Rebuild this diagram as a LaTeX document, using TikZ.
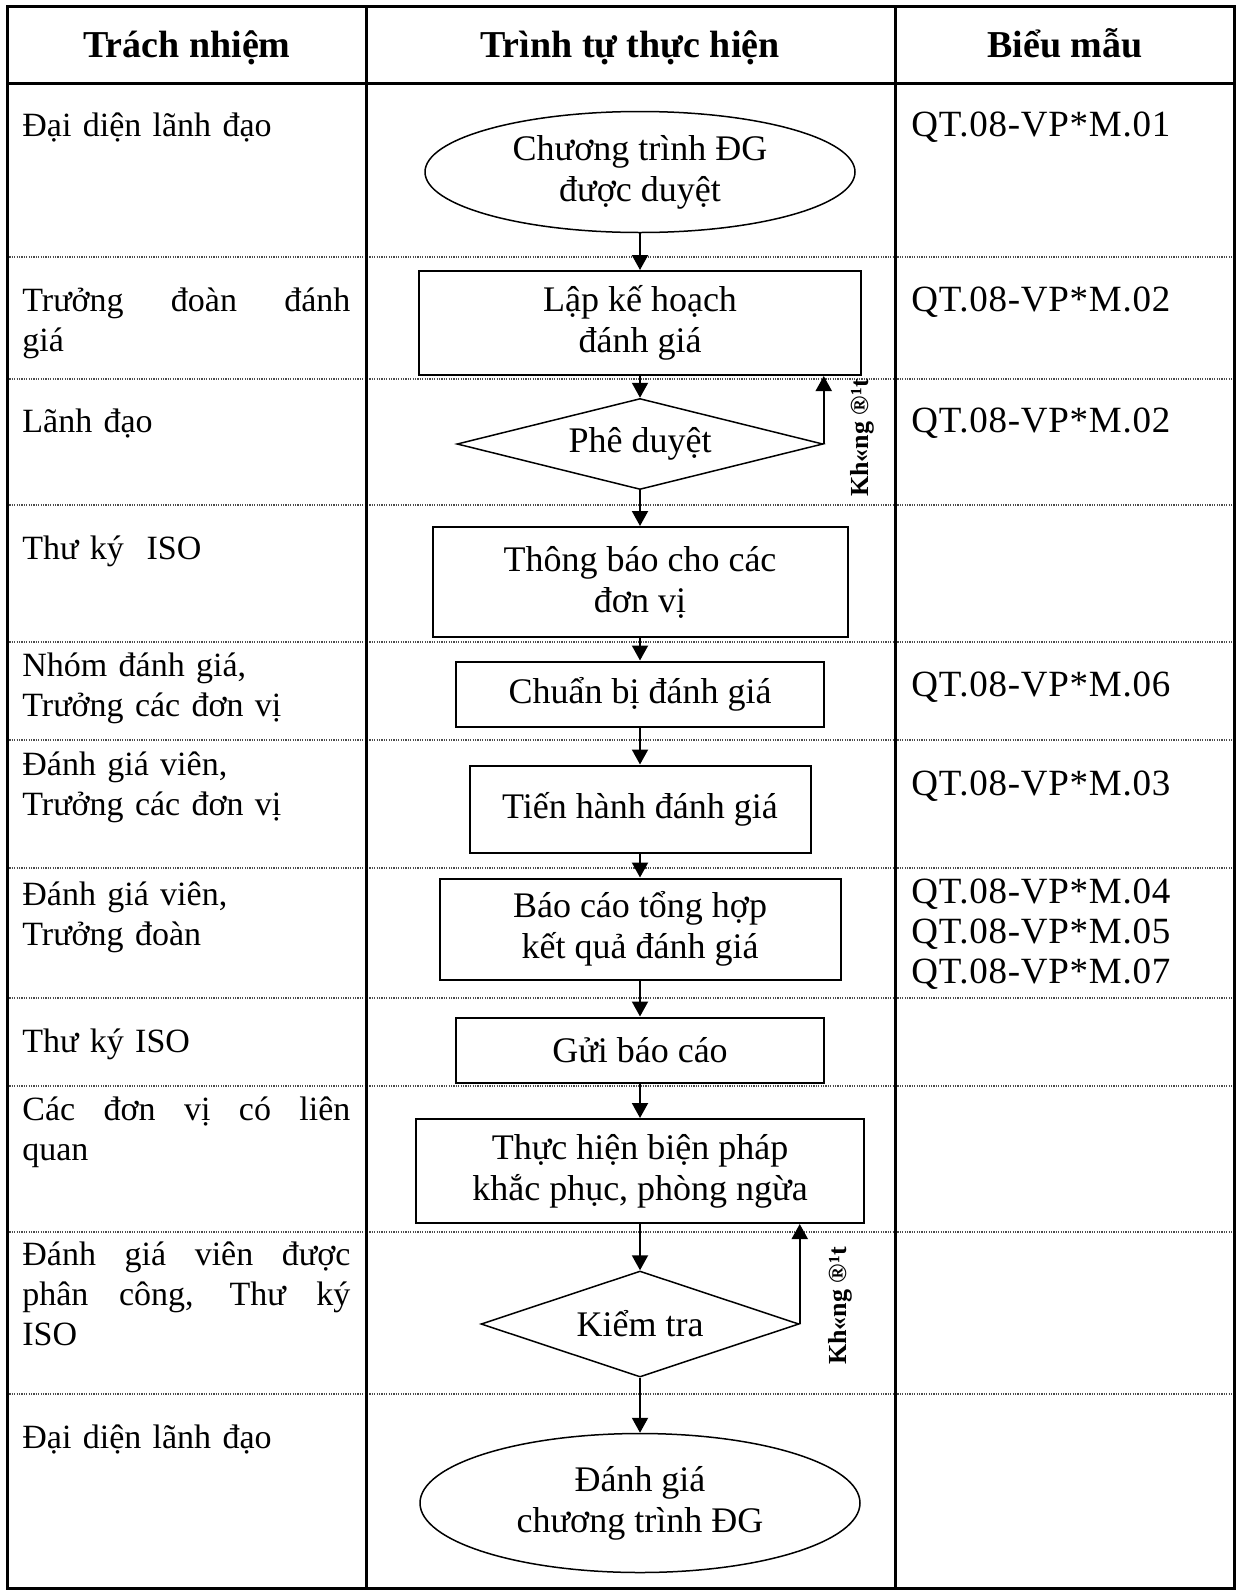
\documentclass[tikz,border=0pt]{standalone}
\usepackage{fontspec}
\setmainfont{Liberation Serif}
\usetikzlibrary{shapes.geometric,arrows.meta}

\tikzset{
  cot/.style={anchor=base west, inner sep=0pt, text width=164pt, align=left,
    font=\fontsize{17pt}{20pt}\selectfont},
  mau/.style={anchor=base west, inner sep=0pt, text width=160pt, align=left,
    font=\fontsize{18.5pt}{20pt}\selectfont\addfontfeatures{LetterSpace=2}},
  tieude/.style={anchor=base, inner sep=0pt, font=\fontsize{19pt}{20pt}\selectfont\bfseries},
  hop/.style={draw, line width=1pt, inner sep=0pt, align=center,
    font=\fontsize{18pt}{20.5pt}\selectfont},
  batdau/.style={ellipse, draw, line width=0.75pt, inner sep=0pt, align=center,
    font=\fontsize{18pt}{20.5pt}\selectfont},
  quyetdinh/.style={diamond, draw, line width=0.75pt, inner sep=0pt,
    font=\fontsize{18pt}{20.5pt}\selectfont},
  muiten/.style={-{Triangle[length=7.5pt,width=8pt]}, line width=1pt},
  khongdat/.style={rotate=90, inner sep=0pt, font=\fontsize{13pt}{13pt}\selectfont\bfseries},
  ke/.style={line width=1.5pt},
  chamcham/.style={line width=0.6pt, black!70, dash pattern=on 0.6pt off 0.6pt}
}

\begin{document}
\begin{tikzpicture}[x=0.5pt, y=-0.5pt]
  \useasboundingbox (0,0) rectangle (1239,1591);
  % khung bang
  \foreach \y in {257,379,505,642,740,868,998,1086,1232,1394}
    \draw[chamcham] (7,\y) -- (1234,\y);
  \draw[ke] (7,6) rectangle (1234,1588);
  \draw[ke] (7,83) -- (1234,83);
  \draw[ke] (366,6) -- (366,1588);
  \draw[ke] (895,6) -- (895,1588);

  \node[tieude] (h1) at (187,57) {Trách nhiệm};
  \node[tieude] (h2) at (630,57) {Trình tự thực hiện};
  \node[tieude] (h3) at (1065,57) {Biểu mẫu};

  % trach nhiem
  \node[cot] (tn1) at (22,136) {Đại diện lãnh đạo};
  \node[cot, align=justify] (tn2) at (22,311) {Trưởng đoàn đánh\linebreak giá};
  \node[cot] (tn3) at (22,432) {Lãnh đạo};
  \node[cot] (tn4) at (22,559) {Thư ký\ \ ISO};
  \node[cot] (tn5) at (22,676) {Nhóm đánh giá,\\Trưởng các đơn vị};
  \node[cot] (tn6) at (22,775) {Đánh giá viên,\\Trưởng các đơn vị};
  \node[cot] (tn7) at (22,905) {Đánh giá viên,\\Trưởng đoàn};
  \node[cot] (tn8) at (22,1052) {Thư ký ISO};
  \node[cot, align=justify] (tn9) at (22,1120) {Các đơn vị có liên\linebreak quan};
  \node[cot, align=justify] (tn10) at (22,1265) {Đánh giá viên được\linebreak phân công, Thư ký\linebreak ISO};
  \node[cot] (tn11) at (22,1448) {Đại diện lãnh đạo};

  % bieu mau
  \node[mau] (bm1) at (911,136) {QT.08-VP*M.01};
  \node[mau] (bm2) at (911,311) {QT.08-VP*M.02};
  \node[mau] (bm3) at (911,432) {QT.08-VP*M.02};
  \node[mau] (bm5) at (911,696) {QT.08-VP*M.06};
  \node[mau] (bm6) at (911,795) {QT.08-VP*M.03};
  \node[mau] (bm7) at (911,903) {QT.08-VP*M.04\\QT.08-VP*M.05\\QT.08-VP*M.07};

  % luu do
  \node[batdau, minimum width=215pt, minimum height=60.5pt] (chuongtrinh) at (640,172) {Chương trình ĐG\\được duyệt};
  \node[hop, minimum width=221pt, minimum height=52pt] (lapkh) at (640,323) {Lập kế hoạch\\đánh giá};
  \node[quyetdinh, aspect=4, minimum width=183pt, minimum height=45.5pt] (pheduyet) at (640,444) {Phê duyệt};
  \node[hop, minimum width=207.5pt, minimum height=55pt] (thongbao) at (640,582) {Thông báo cho các\\đơn vị};
  \node[hop, minimum width=184pt, minimum height=32.5pt] (chuanbi) at (640,694) {Chuẩn bị đánh giá};
  \node[hop, minimum width=170.5pt, minimum height=43.5pt] (tienhanh) at (640,809) {Tiến hành đánh giá};
  \node[hop, minimum width=200.5pt, minimum height=50.5pt] (baocao) at (640,929) {Báo cáo tổng hợp\\kết quả đánh giá};
  \node[hop, minimum width=184pt, minimum height=32.5pt] (guibc) at (640,1050) {Gửi báo cáo};
  \node[hop, minimum width=224pt, minimum height=52pt] (thuchien) at (640,1171) {Thực hiện biện pháp\\khắc phục, phòng ngừa};
  \node[quyetdinh, aspect=3, minimum width=159pt, minimum height=53pt] (kiemtra) at (640,1324) {Kiểm tra};
  \node[batdau, minimum width=220pt, minimum height=69.5pt] (danhgiact) at (640,1503) {Đánh giá\\chương trình ĐG};

  \draw[muiten] (chuongtrinh) -- (lapkh);
  \draw[muiten] (lapkh) -- (pheduyet);
  \draw[muiten] (pheduyet) -- (thongbao);
  \draw[muiten] (thongbao) -- (chuanbi);
  \draw[muiten] (chuanbi) -- (tienhanh);
  \draw[muiten] (tienhanh) -- (baocao);
  \draw[muiten] (baocao) -- (guibc);
  \draw[muiten] (guibc) -- (thuchien);
  \draw[muiten] (thuchien) -- (kiemtra);
  \draw[muiten] (kiemtra) -- (danhgiact);

  % vong lap
  \draw[muiten] (pheduyet.east) -- (pheduyet.east |- lapkh.south);
  \node[khongdat] (kd1) at (862,438) {Kh«ng ®¹t};
  \draw[muiten] (kiemtra.east) -- (kiemtra.east |- thuchien.south);
  \node[khongdat] (kd2) at (840,1306) {Kh«ng ®¹t};
\end{tikzpicture}
\end{document}
